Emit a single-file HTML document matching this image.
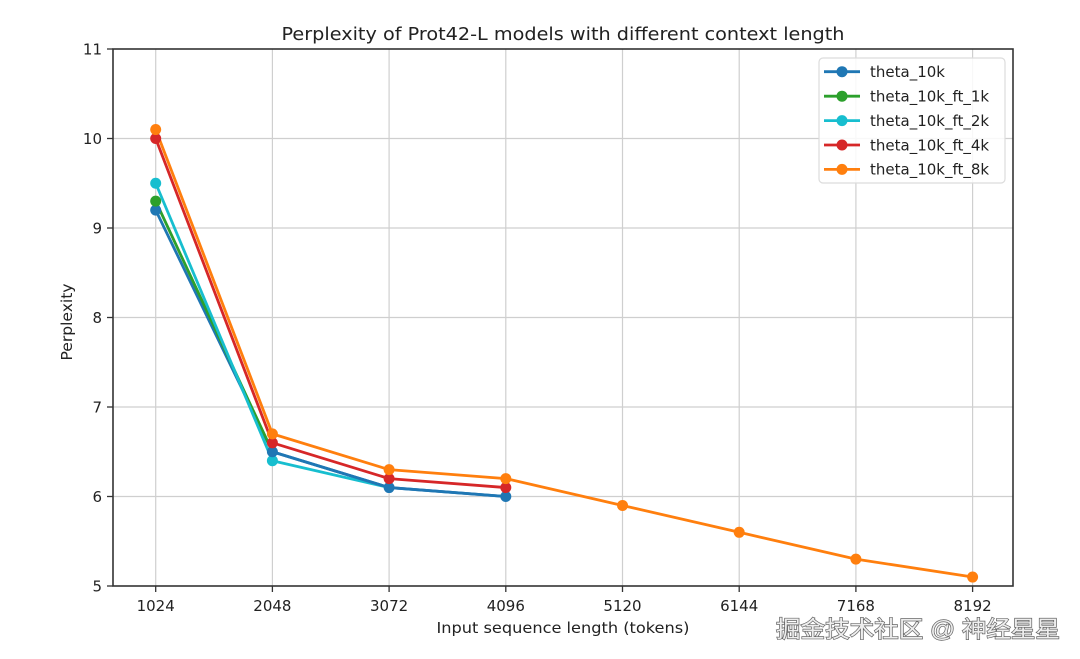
<!DOCTYPE html>
<html>
<head>
<meta charset="utf-8">
<style>
html,body{margin:0;padding:0;background:#fff;}
svg{display:block;}
text{font-family:"DejaVu Sans","Liberation Sans",sans-serif;fill:#222;}
</style>
</head>
<body>
<svg width="1080" height="659" viewBox="0 0 1080 659" xmlns="http://www.w3.org/2000/svg">
<rect width="1080" height="659" fill="#fff"/>
<!-- grid -->
<g stroke="#cfcfcf" stroke-width="1.2">
<line x1="155.7" y1="49" x2="155.7" y2="586"/>
<line x1="272.4" y1="49" x2="272.4" y2="586"/>
<line x1="389.1" y1="49" x2="389.1" y2="586"/>
<line x1="505.8" y1="49" x2="505.8" y2="586"/>
<line x1="622.5" y1="49" x2="622.5" y2="586"/>
<line x1="739.2" y1="49" x2="739.2" y2="586"/>
<line x1="855.9" y1="49" x2="855.9" y2="586"/>
<line x1="972.6" y1="49" x2="972.6" y2="586"/>
<line x1="113" y1="138.5" x2="1013" y2="138.5"/>
<line x1="113" y1="228" x2="1013" y2="228"/>
<line x1="113" y1="317.5" x2="1013" y2="317.5"/>
<line x1="113" y1="407" x2="1013" y2="407"/>
<line x1="113" y1="496.5" x2="1013" y2="496.5"/>
</g>
<!-- series -->
<g fill="none" stroke-width="2.8" stroke-linejoin="round">
<polyline stroke="#1f77b4" points="155.7,210.1 272.4,451.75 389.1,487.55 505.8,496.5"/>
<polyline stroke="#2ca02c" points="155.7,201.15 272.4,451.75"/>
<polyline stroke="#17becf" points="155.7,183.25 272.4,460.7 389.1,487.55"/>
<polyline stroke="#1f77b4" points="272.4,451.75 389.1,487.55 505.8,496.5"/>
<polyline stroke="#d62728" points="155.7,138.5 272.4,442.8 389.1,478.6 505.8,487.55"/>
<polyline stroke="#ff7f0e" points="155.7,129.55 272.4,433.85 389.1,469.65 505.8,478.6 622.5,505.45 739.2,532.3 855.9,559.15 972.6,577.05"/>
</g>
<g>
<circle cx="155.7" cy="210.1" r="5.5" fill="#1f77b4"/>
<circle cx="155.7" cy="201.15" r="5.5" fill="#2ca02c"/>
<circle cx="155.7" cy="183.25" r="5.5" fill="#17becf"/>
<circle cx="272.4" cy="460.7" r="5.5" fill="#17becf"/>
<circle cx="272.4" cy="451.75" r="5.5" fill="#1f77b4"/>
<circle cx="389.1" cy="487.55" r="5.5" fill="#1f77b4"/>
<circle cx="505.8" cy="496.5" r="5.5" fill="#1f77b4"/>
<circle cx="155.7" cy="138.5" r="5.5" fill="#d62728"/>
<circle cx="272.4" cy="442.8" r="5.5" fill="#d62728"/>
<circle cx="389.1" cy="478.6" r="5.5" fill="#d62728"/>
<circle cx="505.8" cy="487.55" r="5.5" fill="#d62728"/>
<circle cx="155.7" cy="129.55" r="5.5" fill="#ff7f0e"/>
<circle cx="272.4" cy="433.85" r="5.5" fill="#ff7f0e"/>
<circle cx="389.1" cy="469.65" r="5.5" fill="#ff7f0e"/>
<circle cx="505.8" cy="478.6" r="5.5" fill="#ff7f0e"/>
<circle cx="622.5" cy="505.45" r="5.5" fill="#ff7f0e"/>
<circle cx="739.2" cy="532.3" r="5.5" fill="#ff7f0e"/>
<circle cx="855.9" cy="559.15" r="5.5" fill="#ff7f0e"/>
<circle cx="972.6" cy="577.05" r="5.5" fill="#ff7f0e"/>
</g>
<!-- axes frame -->
<rect x="113" y="49" width="900" height="537" fill="none" stroke="#333" stroke-width="1.6"/>
<!-- ticks -->
<g stroke="#333" stroke-width="1.3">
<line x1="155.7" y1="586" x2="155.7" y2="592"/>
<line x1="272.4" y1="586" x2="272.4" y2="592"/>
<line x1="389.1" y1="586" x2="389.1" y2="592"/>
<line x1="505.8" y1="586" x2="505.8" y2="592"/>
<line x1="622.5" y1="586" x2="622.5" y2="592"/>
<line x1="739.2" y1="586" x2="739.2" y2="592"/>
<line x1="855.9" y1="586" x2="855.9" y2="592"/>
<line x1="972.6" y1="586" x2="972.6" y2="592"/>
<line x1="107" y1="49" x2="113" y2="49"/>
<line x1="107" y1="138.5" x2="113" y2="138.5"/>
<line x1="107" y1="228" x2="113" y2="228"/>
<line x1="107" y1="317.5" x2="113" y2="317.5"/>
<line x1="107" y1="407" x2="113" y2="407"/>
<line x1="107" y1="496.5" x2="113" y2="496.5"/>
<line x1="107" y1="586" x2="113" y2="586"/>
</g>
<g font-size="15" text-anchor="middle">
<text x="155.7" y="611">1024</text>
<text x="272.4" y="611">2048</text>
<text x="389.1" y="611">3072</text>
<text x="505.8" y="611">4096</text>
<text x="622.5" y="611">5120</text>
<text x="739.2" y="611">6144</text>
<text x="855.9" y="611">7168</text>
<text x="972.6" y="611">8192</text>
</g>
<g font-size="15" text-anchor="end">
<text x="102" y="54.5">11</text>
<text x="102" y="144">10</text>
<text x="102" y="233.5">9</text>
<text x="102" y="323">8</text>
<text x="102" y="412.5">7</text>
<text x="102" y="502">6</text>
<text x="102" y="591.5">5</text>
</g>
<text x="563" y="40" font-size="18" text-anchor="middle" textLength="563" lengthAdjust="spacingAndGlyphs">Perplexity of Prot42-L models with different context length</text>
<text x="563" y="633" font-size="15" text-anchor="middle" textLength="253" lengthAdjust="spacingAndGlyphs">Input sequence length (tokens)</text>
<text transform="translate(72,322) rotate(-90)" font-size="15" text-anchor="middle" textLength="77" lengthAdjust="spacingAndGlyphs">Perplexity</text>
<!-- legend -->
<rect x="819" y="58" width="186" height="125" rx="4" fill="#fff" fill-opacity="0.85" stroke="#dcdcdc" stroke-width="1.2"/>
<g stroke-width="2.8">
<line x1="824" y1="71.7" x2="860" y2="71.7" stroke="#1f77b4"/>
<line x1="824" y1="96.2" x2="860" y2="96.2" stroke="#2ca02c"/>
<line x1="824" y1="120.6" x2="860" y2="120.6" stroke="#17becf"/>
<line x1="824" y1="145" x2="860" y2="145" stroke="#d62728"/>
<line x1="824" y1="169.4" x2="860" y2="169.4" stroke="#ff7f0e"/>
</g>
<circle cx="842" cy="71.7" r="5.5" fill="#1f77b4"/>
<circle cx="842" cy="96.2" r="5.5" fill="#2ca02c"/>
<circle cx="842" cy="120.6" r="5.5" fill="#17becf"/>
<circle cx="842" cy="145" r="5.5" fill="#d62728"/>
<circle cx="842" cy="169.4" r="5.5" fill="#ff7f0e"/>
<g font-size="15">
<text x="870" y="77">theta_10k</text>
<text x="870" y="101.5">theta_10k_ft_1k</text>
<text x="870" y="126">theta_10k_ft_2k</text>
<text x="870" y="150.3">theta_10k_ft_4k</text>
<text x="870" y="174.7">theta_10k_ft_8k</text>
</g>
<!-- watermark -->
<text x="776" y="637" font-size="23" textLength="284" lengthAdjust="spacingAndGlyphs" style="font-family:'Liberation Sans','Noto Sans CJK SC',sans-serif;fill:#eeeeee;stroke:#666;stroke-width:1.4;paint-order:stroke">掘金技术社区 @ 神经星星</text>
</svg>
</body>
</html>
